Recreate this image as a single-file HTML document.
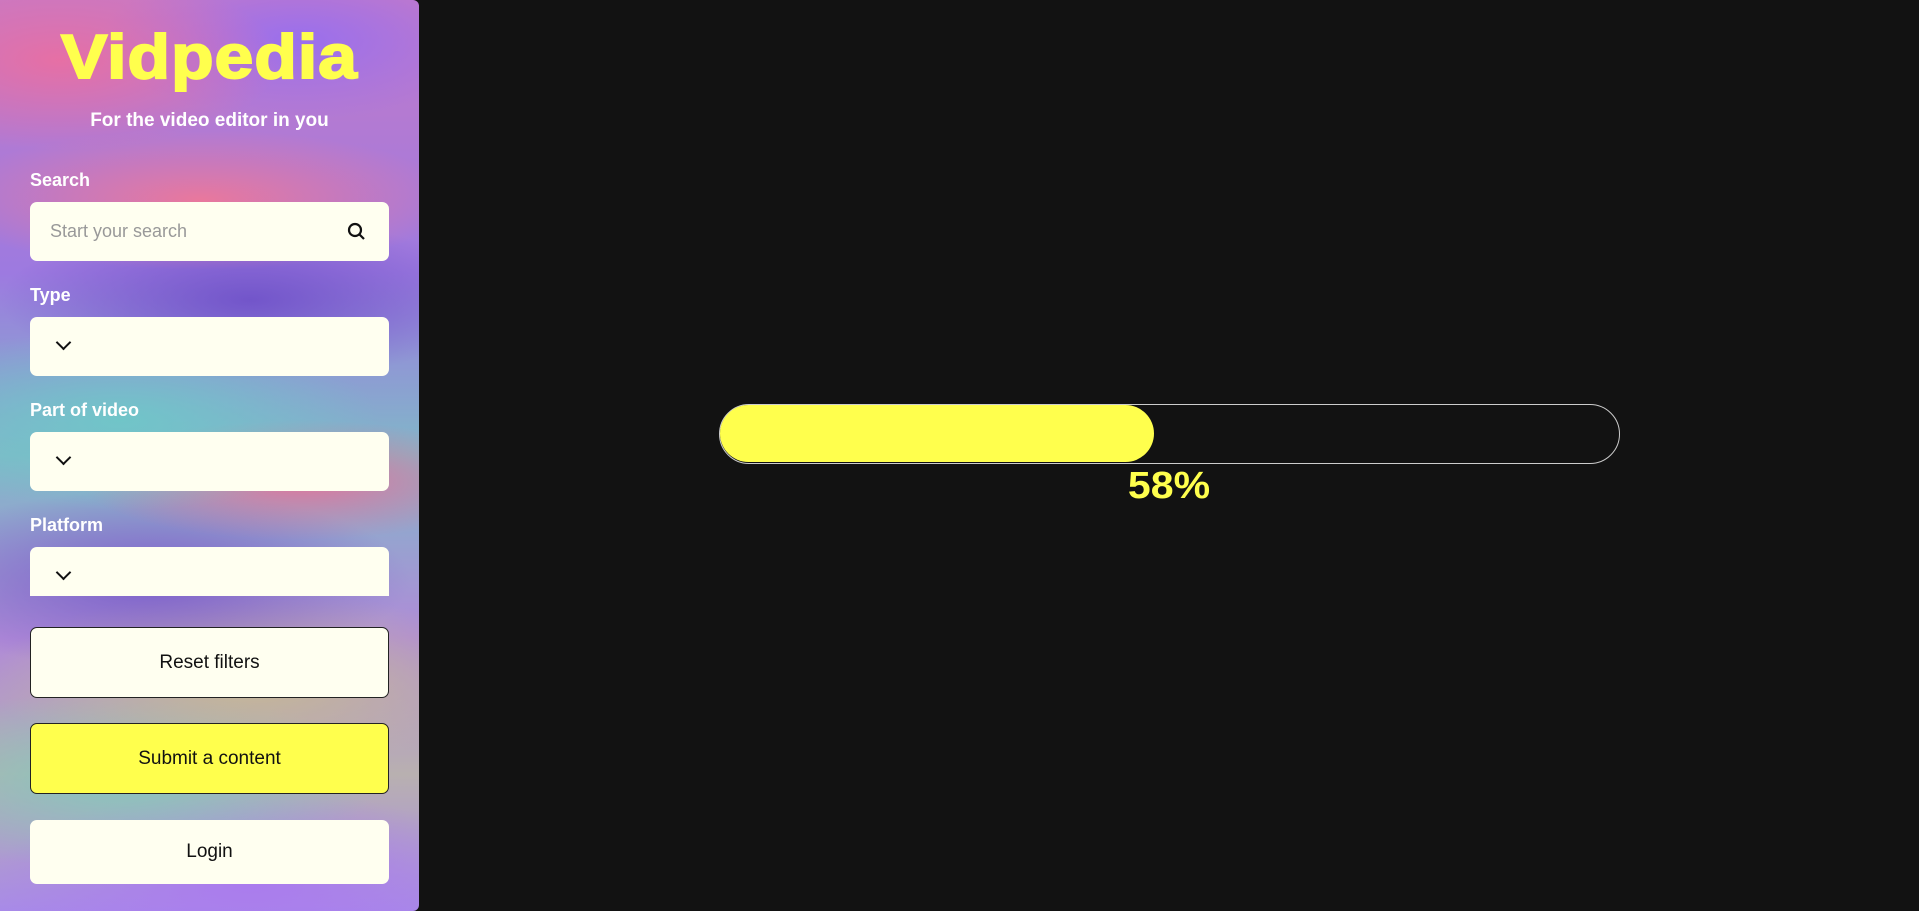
<!DOCTYPE html>
<html><head><meta charset="utf-8"><style>
*{box-sizing:border-box;margin:0;padding:0}
body{width:1919px;height:911px;background:#121212;font-family:"Liberation Sans",sans-serif;overflow:hidden;position:relative}
#side{position:absolute;left:0;top:0;width:419px;height:911px;border-radius:0 6px 6px 0;overflow:hidden;
background:
radial-gradient(ellipse 220px 90px at 60px 60px,rgba(235,110,160,.9),transparent),
radial-gradient(ellipse 200px 80px at 300px 40px,rgba(150,110,240,.9),transparent),
radial-gradient(ellipse 260px 70px at 200px 200px,rgba(240,120,150,.9),transparent),
radial-gradient(ellipse 250px 80px at 250px 300px,rgba(110,80,200,.9),transparent),
radial-gradient(ellipse 260px 90px at 120px 420px,rgba(110,200,200,.9),transparent),
radial-gradient(ellipse 220px 60px at 300px 480px,rgba(235,110,150,.9),transparent),
radial-gradient(ellipse 260px 90px at 150px 580px,rgba(120,90,200,.9),transparent),
radial-gradient(ellipse 260px 90px at 250px 680px,rgba(200,190,140,.9),transparent),
radial-gradient(ellipse 260px 90px at 120px 780px,rgba(130,200,190,.9),transparent),
radial-gradient(ellipse 260px 90px at 250px 880px,rgba(170,120,240,.9),transparent),
linear-gradient(180deg,#c47ac8,#9d7ae0 30%,#80b8c8 50%,#b08ad8 70%,#b8b0b0 85%,#a88ae8)}
.abs{position:absolute}
h1{position:absolute;left:0;width:419px;top:22px;text-align:center;color:#ffff4d;font-size:62px;font-weight:900;letter-spacing:1px;transform:scaleX(1.12);-webkit-text-stroke:2px #ffff4d}
.sub{left:0;width:419px;top:110px;text-align:center;color:#fff;font-weight:bold;font-size:19px}
.lbl{left:30px;color:#fff;font-weight:bold;font-size:18px}
.box{left:30px;width:359px;background:#fffff0;border-radius:7px}
.chev{position:absolute;left:28px;top:20px;width:11px;height:11px;border-right:2.5px solid #111;border-bottom:2.5px solid #111;transform:rotate(45deg)}
.btn{left:30px;width:359px;border:1px solid #222;border-radius:7px;display:flex;align-items:center;justify-content:center;font-size:19px;color:#111}
</style></head><body>
<div id="side">
<h1>Vidpedia</h1>
<div class="abs sub">For the video editor in you</div>
<div class="abs lbl" style="top:170px">Search</div>
<div class="abs box" style="top:202px;height:59px">
<span style="position:absolute;left:20px;top:19px;color:#999;font-size:18px">Start your search</span>
<svg style="position:absolute;right:22px;top:20px" width="20" height="20"><circle cx="8" cy="8" r="6" fill="none" stroke="#111" stroke-width="2.2"/><line x1="12.5" y1="12.5" x2="17" y2="17" stroke="#111" stroke-width="2.2"/></svg>
</div>
<div class="abs lbl" style="top:285px">Type</div>
<div class="abs box" style="top:317px;height:59px"><div class="chev"></div></div>
<div class="abs lbl" style="top:400px">Part of video</div>
<div class="abs box" style="top:432px;height:59px"><div class="chev"></div></div>
<div class="abs lbl" style="top:515px">Platform</div>
<div class="abs box" style="top:547px;height:49px;border-radius:7px 7px 0 0"><div class="chev"></div></div>
<div class="abs btn" style="top:627px;height:71px;background:#fffff0">Reset filters</div>
<div class="abs btn" style="top:723px;height:71px;background:#ffff4d">Submit a content</div>
<div class="abs btn" style="top:820px;height:64px;background:#fffff0;border:none">Login</div>
</div>
<div class="abs" style="left:719px;top:404px;width:901px;height:60px;border:1.5px solid #ccc;border-radius:30px">
<div style="position:absolute;left:0;top:0;height:57px;width:434px;background:#ffff4d;border-radius:29px"></div>
</div>
<div class="abs" style="left:1069px;width:200px;top:465px;text-align:center;color:#ffff4d;font-size:38px;font-weight:900;transform:scaleX(1.08)">58%</div>
</body></html>
